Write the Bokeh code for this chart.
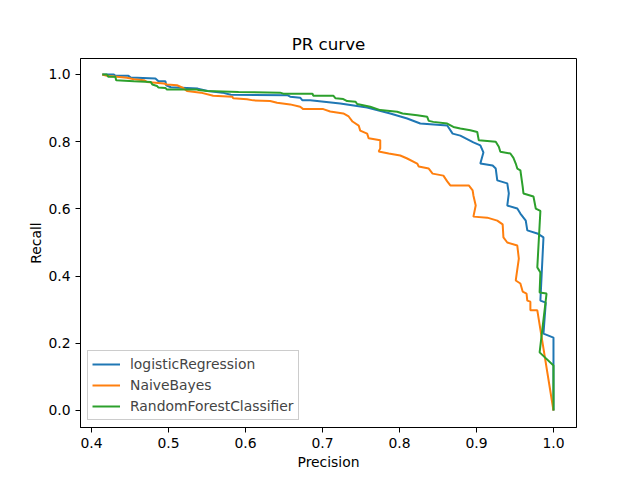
from bokeh.plotting import figure
from bokeh.models import Legend, LegendItem, FixedTicker, PrintfTickFormatter, Range1d
from bokeh.embed import file_html
from bokeh.resources import INLINE

# logisticRegression: precision / recall
lr_precision = [0.414, 0.429, 0.431, 0.448, 0.451, 0.483, 0.487, 0.496, 0.497, 0.503,
                0.538, 0.551, 0.570, 0.581, 0.655, 0.658, 0.671, 0.674, 0.684, 0.723,
                0.758, 0.788, 0.810, 0.827, 0.862, 0.869, 0.879, 0.896, 0.905, 0.909,
                0.905, 0.921, 0.925, 0.927, 0.940, 0.942, 0.940, 0.953, 0.957, 0.964,
                0.966, 0.979, 0.987, 0.983, 0.990, 0.987, 1.000, 1.000]
lr_recall = [1.000, 1.000, 0.996, 0.996, 0.991, 0.988, 0.980, 0.980, 0.968, 0.962,
             0.958, 0.951, 0.946, 0.940, 0.938, 0.934, 0.931, 0.923, 0.923, 0.914,
             0.902, 0.884, 0.869, 0.854, 0.848, 0.824, 0.818, 0.798, 0.789, 0.768,
             0.735, 0.729, 0.720, 0.685, 0.676, 0.646, 0.610, 0.601, 0.586, 0.565,
             0.536, 0.527, 0.515, 0.327, 0.321, 0.229, 0.217, 0.000]

# NaiveBayes
nb_precision = [0.414, 0.420, 0.433, 0.446, 0.455, 0.468, 0.472, 0.494, 0.498, 0.511,
                0.519, 0.524, 0.542, 0.558, 0.583, 0.584, 0.602, 0.610, 0.632, 0.641,
                0.658, 0.671, 0.675, 0.701, 0.710, 0.727, 0.734, 0.739, 0.747, 0.749,
                0.758, 0.760, 0.775, 0.775, 0.773, 0.786, 0.801, 0.810, 0.823, 0.825,
                0.838, 0.843, 0.857, 0.862, 0.866, 0.890, 0.895, 0.896, 0.899, 0.896,
                0.914, 0.927, 0.934, 0.935, 0.940, 0.953, 0.955, 0.951, 0.957, 0.960,
                0.965, 0.966, 0.970, 0.970, 0.979, 1.000]
nb_recall = [1.000, 0.996, 0.993, 0.990, 0.986, 0.983, 0.978, 0.973, 0.970, 0.968,
             0.960, 0.951, 0.946, 0.937, 0.934, 0.929, 0.926, 0.923, 0.921, 0.916,
             0.911, 0.904, 0.897, 0.897, 0.890, 0.884, 0.875, 0.860, 0.848, 0.833,
             0.824, 0.810, 0.804, 0.780, 0.771, 0.765, 0.759, 0.750, 0.735, 0.726,
             0.720, 0.705, 0.699, 0.682, 0.670, 0.670, 0.655, 0.640, 0.610, 0.577,
             0.574, 0.565, 0.554, 0.515, 0.500, 0.491, 0.452, 0.387, 0.378, 0.354,
             0.348, 0.327, 0.324, 0.298, 0.298, 0.000]

# RandomForestClassifier
rf_precision = [0.414, 0.420, 0.422, 0.431, 0.432, 0.455, 0.477, 0.479, 0.485, 0.487,
                0.496, 0.498, 0.537, 0.539, 0.550, 0.591, 0.645, 0.649, 0.687, 0.688,
                0.714, 0.717, 0.727, 0.732, 0.743, 0.745, 0.762, 0.775, 0.797, 0.804,
                0.823, 0.836, 0.838, 0.844, 0.862, 0.870, 0.879, 0.892, 0.901, 0.903,
                0.925, 0.929, 0.931, 0.944, 0.948, 0.951, 0.953, 0.957, 0.960, 0.961,
                0.974, 0.977, 0.983, 0.979, 0.983, 0.982, 0.991, 0.982, 1.000, 1.000]
rf_recall = [1.000, 1.000, 0.993, 0.993, 0.983, 0.980, 0.978, 0.970, 0.966, 0.961,
             0.960, 0.955, 0.955, 0.954, 0.951, 0.948, 0.946, 0.943, 0.943, 0.937,
             0.937, 0.929, 0.927, 0.921, 0.919, 0.912, 0.904, 0.894, 0.889, 0.884,
             0.879, 0.874, 0.862, 0.859, 0.854, 0.844, 0.839, 0.834, 0.829, 0.804,
             0.800, 0.785, 0.770, 0.765, 0.752, 0.735, 0.720, 0.715, 0.666, 0.646,
             0.637, 0.601, 0.594, 0.426, 0.411, 0.351, 0.348, 0.173, 0.134, 0.000]

x_ticks = [0.4, 0.5, 0.6, 0.7, 0.8, 0.9, 1.0]
y_ticks = [0.0, 0.2, 0.4, 0.6, 0.8, 1.0]

FONT = "DejaVu Sans"

p = figure(width=640, height=480, output_backend="svg", toolbar_location=None,
           title="PR curve", x_range=Range1d(0.3857, 1.0299), y_range=Range1d(-0.0506, 1.0476),
           min_border_left=80, min_border_right=64, min_border_top=58, min_border_bottom=53)
p.background_fill_color = "white"
p.border_fill_color = "white"
p.outline_line_color = "black"
p.outline_line_width = 1
p.grid.visible = False

p.title.align = "center"
p.title.text_font = FONT
p.title.text_font_size = "16.7px"
p.title.text_font_style = "normal"
p.title.text_color = "black"

for ax in (p.xaxis[0], p.yaxis[0]):
    ax.axis_label_text_font = FONT
    ax.axis_label_text_font_size = "13.9px"
    ax.axis_label_text_font_style = "normal"
    ax.axis_label_text_color = "black"
    ax.major_label_text_font = FONT
    ax.major_label_text_font_size = "13.9px"
    ax.major_label_text_color = "black"
    ax.minor_tick_line_color = None
    ax.major_tick_out = 5
    ax.major_tick_in = 0
    ax.axis_line_color = "black"
    ax.major_tick_line_color = "black"
    ax.formatter = PrintfTickFormatter(format="%.1f")

p.xaxis[0].ticker = FixedTicker(ticks=x_ticks)
p.yaxis[0].ticker = FixedTicker(ticks=y_ticks)
p.xaxis[0].axis_label = "Precision"
p.yaxis[0].axis_label = "Recall"
p.xaxis[0].axis_label_standoff = 3
p.yaxis[0].axis_label_standoff = 1

r1 = p.line(lr_precision, lr_recall, line_color="#1f77b4", line_width=2)
r2 = p.line(nb_precision, nb_recall, line_color="#ff7f0e", line_width=2)
r3 = p.line(rf_precision, rf_recall, line_color="#2ca02c", line_width=2)

legend = Legend(items=[LegendItem(label="logisticRegression", renderers=[r1]),
                       LegendItem(label="NaiveBayes", renderers=[r2]),
                       LegendItem(label="RandomForestClassifier", renderers=[r3])],
                location="bottom_left")
legend.label_text_font = FONT
legend.label_text_font_size = "13.9px"
legend.border_line_color = "#cccccc"
legend.border_line_alpha = 1
legend.background_fill_alpha = 0.8
legend.glyph_width = 28
legend.glyph_height = 18
legend.label_height = 18
legend.spacing = 3
legend.padding = 4
legend.margin = 7
legend.label_standoff = 10
p.add_layout(legend)

open("out.html", "w").write(file_html(p, INLINE))
